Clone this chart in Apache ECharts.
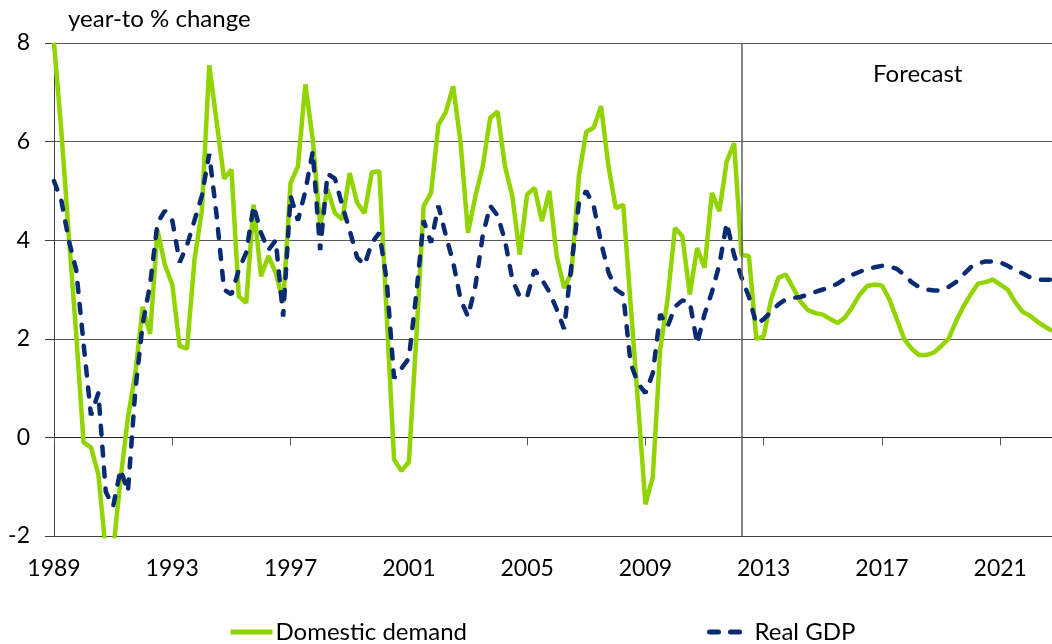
<!DOCTYPE html>
<html>
<head>
<meta charset="utf-8">
<script src="https://cdn.jsdelivr.net/npm/echarts@6/dist/echarts.min.js"></script>
<style>
html, body { margin: 0; padding: 0; background: #fff; }
#chart-container { width: 1052px; height: 644px; }
</style>
</head>
<body>
<div id="chart-container"></div>
<script>
// quarterly data, 1989Q1 - 2022Q4 (forecast from 2012Q2)
var FIRST_YEAR = 1989;
var LAST_YEAR = 2022;
var FORECAST_START = '2012Q2';

var domesticDemand = [
    8.0, 6.2, 4.1, 2.1,        // 1989
    -0.1, -0.2, -0.75, -2.3,   // 1990
    -2.3, -0.85, 0.4, 1.3,     // 1991
    2.65, 2.1, 4.2, 3.5,       // 1992
    3.1, 1.85, 1.8, 3.6,       // 1993
    4.6, 7.55, 6.4, 5.25,      // 1994
    5.43, 2.86, 2.73, 4.72,    // 1995
    3.27, 3.68, 3.34, 2.73,    // 1996
    5.16, 5.5, 7.16, 6.04,     // 1997
    4.3, 5.03, 4.55, 4.42,     // 1998
    5.36, 4.76, 4.55, 5.38,    // 1999
    5.4, 2.5, -0.45, -0.68,    // 2000
    -0.5, 2.0, 4.69, 4.96,     // 2001
    6.34, 6.6, 7.12, 5.97,     // 2002
    4.15, 4.89, 5.5, 6.48,     // 2003
    6.61, 5.5, 4.89, 3.71,     // 2004
    4.93, 5.06, 4.39, 5.0,     // 2005
    3.68, 3.03, 3.34, 5.3,     // 2006
    6.2, 6.28, 6.72, 5.5,      // 2007
    4.65, 4.72, 2.7, 0.7,      // 2008
    -1.36, -0.8, 1.78, 2.8,    // 2009
    4.25, 4.08, 2.9, 3.84,     // 2010
    3.44, 4.96, 4.59, 5.6,     // 2011
    5.97, 3.7, 3.68, 2.0,      // 2012
    2.05, 2.8, 3.24, 3.3,      // 2013
    3.03, 2.75, 2.58, 2.52,    // 2014
    2.49, 2.4, 2.32, 2.43,     // 2015
    2.65, 2.9, 3.07, 3.1,      // 2016
    3.08, 2.8, 2.4, 2.0,       // 2017
    1.8, 1.67, 1.67, 1.72,     // 2018
    1.85, 2.0, 2.35, 2.65,     // 2019
    2.9, 3.12, 3.15, 3.2,      // 2020
    3.1, 3.0, 2.75, 2.55,      // 2021
    2.47, 2.35, 2.25, 2.16     // 2022
];

var realGDP = [
    5.2, 4.8, 4.0, 3.4,        // 1989
    1.9, 0.45, 0.9, -1.1,      // 1990
    -1.4, -0.65, -1.1, 0.95,   // 1991
    2.3, 3.1, 4.35, 4.6,       // 1992
    4.4, 3.55, 3.9, 4.4,       // 1993
    4.9, 5.75, 4.5, 3.0,       // 1994
    2.9, 3.4, 3.75, 4.7,       // 1995
    4.15, 3.8, 4.0, 2.45,      // 1996
    4.9, 4.4, 5.0, 5.8,        // 1997
    3.8, 5.35, 5.25, 4.7,      // 1998
    4.2, 3.65, 3.5, 3.95,      // 1999
    4.15, 3.2, 1.2, 1.4,       // 2000
    1.6, 2.9, 4.4, 3.95,       // 2001
    4.7, 4.1, 3.55, 2.8,       // 2002
    2.45, 3.07, 4.1, 4.7,      // 2003
    4.5, 4.0, 3.2, 2.85,       // 2004
    2.85, 3.4, 3.2, 2.95,      // 2005
    2.6, 2.2, 3.5, 4.75,       // 2006
    5.0, 4.7, 3.95, 3.35,      // 2007
    3.0, 2.9, 1.5, 1.1,        // 2008
    0.9, 1.3, 2.5, 2.25,       // 2009
    2.65, 2.78, 2.75, 1.9,     // 2010
    2.5, 2.95, 3.5, 4.35,      // 2011
    3.7, 3.25, 2.85, 2.3,      // 2012
    2.4, 2.55, 2.7, 2.8,       // 2013
    2.83, 2.85, 2.9, 2.95,     // 2014
    3.0, 3.05, 3.12, 3.22,     // 2015
    3.3, 3.36, 3.42, 3.45,     // 2016
    3.48, 3.47, 3.42, 3.3,     // 2017
    3.15, 3.05, 3.0, 2.98,     // 2018
    2.98, 3.05, 3.15, 3.3,     // 2019
    3.45, 3.53, 3.57, 3.57,    // 2020
    3.55, 3.48, 3.4, 3.33,     // 2021
    3.25, 3.2, 3.2, 3.2        // 2022
];

var quarters = [];
for (var y = FIRST_YEAR; y <= LAST_YEAR; y++) {
    for (var q = 1; q <= 4; q++) {
        quarters.push(y + 'Q' + q);
    }
}

var FONT = 'Lato';
var GREEN = '#92d400';
var NAVY = '#0a2a72';

var chartDom = document.getElementById('chart-container');
var myChart = echarts.init(chartDom);

// legend: thick line only, no marker dot
var legendBase = {
    top: 620,
    padding: 0,
    itemWidth: 42,
    itemHeight: 14,
    lineStyle: { width: 5 },
    itemStyle: { color: 'transparent', borderColor: 'transparent', borderWidth: 0, opacity: 0 },
    textStyle: { fontFamily: FONT, fontSize: 24, color: '#000', padding: [0, 0, 0, -2] }
};

var option = {
    animation: false,
    backgroundColor: '#fff',
    textStyle: { fontFamily: FONT },
    title: [
        {
            text: 'year-to % change',
            left: 68,
            top: 7,
            padding: 0,
            textStyle: { fontFamily: FONT, fontSize: 24, fontWeight: 'normal', color: '#000' }
        },
        {
            text: 'Forecast',
            left: 873,
            top: 62,
            padding: 0,
            textStyle: { fontFamily: FONT, fontSize: 24, fontWeight: 'normal', color: '#000' }
        }
    ],
    legend: [
        Object.assign({ data: ['Domestic demand'], left: 228 }, legendBase),
        Object.assign({ data: ['Real GDP'], left: 707 }, legendBase)
    ],
    grid: {
        left: 54,
        right: 0,
        top: 43,
        height: 493,
        outerBoundsMode: 'none'
    },
    xAxis: [
        {
            type: 'category',
            data: quarters,
            boundaryGap: false,
            position: 'bottom',
            axisLine: { onZero: false, lineStyle: { color: '#404040', width: 1 } },
            axisTick: { show: false },
            axisLabel: {
                interval: 15,
                margin: 21,
                fontFamily: FONT,
                fontSize: 23,
                color: '#000',
                formatter: function (v) { return v.slice(0, 4); }
            },
            splitLine: { show: false }
        },
        {
            // line and ticks at zero
            type: 'category',
            data: quarters,
            boundaryGap: false,
            position: 'top',
            axisLine: { onZero: true, lineStyle: { color: '#202020', width: 1 } },
            axisTick: { show: true, inside: true, interval: 15, length: 8, lineStyle: { color: '#555' } },
            axisLabel: { show: false },
            splitLine: { show: false }
        }
    ],
    yAxis: {
        type: 'value',
        min: -2,
        max: 8,
        interval: 2,
        axisLine: { show: true, lineStyle: { color: '#404040', width: 1 } },
        axisTick: { show: true, length: 9, lineStyle: { color: '#404040' } },
        axisLabel: { margin: 24, fontFamily: FONT, fontSize: 23, color: '#000' },
        splitLine: { lineStyle: { color: '#5a5a5a', width: 1 } }
    },
    series: [
        {
            name: 'Domestic demand',
            type: 'line',
            xAxisIndex: 0,
            data: domesticDemand,
            symbol: 'none',
            clip: true,
            lineStyle: { color: GREEN, width: 4.5 },
            itemStyle: { color: GREEN },
            markLine: {
                silent: true,
                symbol: ['none', 'none'],
                label: { show: false },
                lineStyle: { color: '#5f5f5f', width: 1.5, type: 'solid' },
                data: [{ xAxis: FORECAST_START }]
            }
        },
        {
            name: 'Real GDP',
            type: 'line',
            xAxisIndex: 0,
            data: realGDP,
            symbol: 'none',
            clip: true,
            lineStyle: { color: NAVY, width: 4.5, type: [9, 12], cap: 'round' },
            itemStyle: { color: NAVY }
        }
    ]
};

myChart.setOption(option);
</script>
</body>
</html>
